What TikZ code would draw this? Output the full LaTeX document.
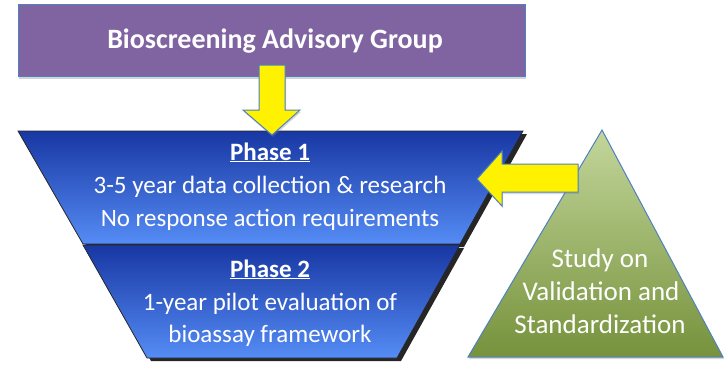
\documentclass[tikz,border=0pt]{standalone}
\usepackage{fontspec}
\setmainfont{Carlito}
\usetikzlibrary{shadows,fadings}
\definecolor{purp}{HTML}{8064A2}
\definecolor{edgeblue}{HTML}{4F81BD}
\definecolor{trapTop}{HTML}{1837A3}
\definecolor{trapBot}{HTML}{558CF5}
\definecolor{triTop}{HTML}{C3D69B}
\definecolor{triBot}{HTML}{76923C}
\begin{document}
\begin{tikzpicture}[x=1pt,y=-1pt,
  txt/.style={anchor=base,text=white,inner sep=0pt},
  phasefont/.style={font=\fontsize{25}{30}\selectfont},
  trifont/.style={font=\fontsize{27}{32}\selectfont},
  blockarrow/.style={fill=yellow,draw=edgeblue,line width=1pt,line join=miter},
  trapez/.style={draw=black!85,line width=0.8pt,top color=trapTop,bottom color=trapBot},
  trapshadow/.style={fill=black,opacity=0.85}]
\useasboundingbox (0,0) rectangle (725,365);

% top box
\node[draw=edgeblue,line width=1pt,fill=purp,minimum width=507pt,minimum height=72pt,inner sep=0pt,
  drop shadow={shadow xshift=1pt,shadow yshift=-3pt,opacity=0.35}] (bag) at (271.5,40) {};
\node[txt,font=\fontsize{28}{34}\selectfont\bfseries] (title) at (275,48) {Bioscreening Advisory Group};

% funnel corners
\coordinate (p1a) at (18,131); \coordinate (p1b) at (523,131);
\coordinate (p1c) at (460,244); \coordinate (p1d) at (83,244);
\coordinate (p2a) at (83,245); \coordinate (p2b) at (460,245);
\coordinate (p2c) at (397,358); \coordinate (p2d) at (147,358);

% shadows
\fill[trapshadow] ([shift={(4,3)}]p1a) -- ([shift={(4,3)}]p1b) -- ([shift={(4,3)}]p1c) -- ([shift={(4,3)}]p1d) -- cycle;
\fill[trapshadow] ([shift={(4,3)}]p2a) -- ([shift={(4,3)}]p2b) -- ([shift={(4,3)}]p2c) -- ([shift={(4,3)}]p2d) -- cycle;
% phase shapes
\path[trapez] (p1a) -- (p1b) -- (p1c) -- (p1d) -- cycle;
\path[trapez] (p2a) -- (p2b) -- (p2c) -- (p2d) -- cycle;

% phase texts
\node[txt,phasefont] (ph1) at (270,160) {\underline{\textbf{Phase 1}}};
\node[txt,phasefont] (ph1a) at (270,193) {3-5 year data collection \& research};
\node[txt,phasefont] (ph1b) at (270,226) {No response action requirements};
\node[txt,phasefont] (ph2) at (270,277) {\underline{\textbf{Phase 2}}};
\node[txt,phasefont] (ph2a) at (270,310) {1-year pilot evaluation of};
\node[txt,phasefont] (ph2b) at (270,342) {bioassay framework};

% down arrow
\path[blockarrow,drop shadow={shadow xshift=1pt,shadow yshift=-2pt,opacity=0.3}]
  (259,65) -- (285,65) -- (285,110) -- (300,110) -- (272,135) -- (243,110) -- (259,110) -- cycle;

% triangle
\path[draw=edgeblue,line width=1pt,top color=triTop,bottom color=triBot,
  drop shadow={shadow xshift=1pt,shadow yshift=-2pt,opacity=0.3}]
  (602,130) -- (723,357) -- (468,357) -- cycle;
\node[txt,trifont] (s1) at (600,267) {Study on};
\node[txt,trifont] (s2) at (601,300) {Validation and};
\node[txt,trifont] (s3) at (600,333) {Standardization};

% left arrow
\path[blockarrow,drop shadow={shadow xshift=1pt,shadow yshift=-2pt,opacity=0.3}]
  (477,179) -- (502,151) -- (502,164) -- (578,164) -- (578,192) -- (502,192) -- (502,206) -- cycle;
\end{tikzpicture}
\end{document}
